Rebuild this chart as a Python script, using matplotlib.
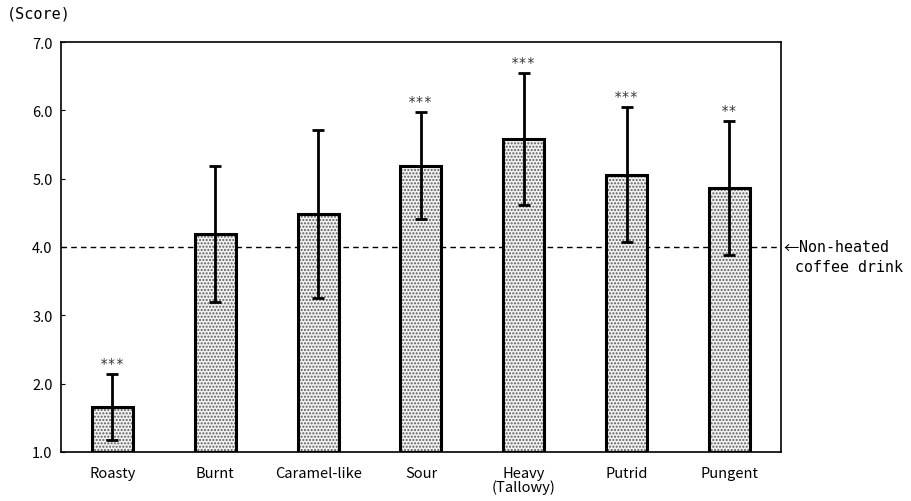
import numpy as np
import matplotlib.pyplot as plt

plt.rcParams['font.family'] = ['Noto Sans CJK JP', 'DejaVu Sans']

categories = ['Roasty', 'Burnt', 'Caramel-like', 'Sour', 'Heavy\n(Tallowy)', 'Putrid', 'Pungent']
scores = [1.66, 4.19, 4.48, 5.19, 5.58, 5.06, 4.86]
errors = [0.48, 1.00, 1.23, 0.78, 0.97, 0.99, 0.98]
stars = ['***', '', '', '***', '***', '***', '**']
baseline = 4.0

x = np.arange(len(categories))

fig = plt.figure(figsize=(9.11, 5.02), dpi=100)
ax = fig.add_axes([0.067, 0.098, 0.790, 0.816])

# textured fill, then the black outline on top
ax.bar(x, [s - 1.0 for s in scores], bottom=1.0, width=0.4, color='#f2f2f2',
       hatch='.....', edgecolor='#5a5a5a', linewidth=0, zorder=2)
ax.bar(x, [s - 1.0 for s in scores], bottom=1.0, width=0.4, fill=False,
       edgecolor='black', linewidth=2.2, zorder=3)
ax.errorbar(x, scores, yerr=errors, fmt='none', ecolor='black', elinewidth=2,
            capsize=4, capthick=2, zorder=4)

for xi, s, e, st in zip(x, scores, errors, stars):
    if st:
        ax.text(xi, s + e + 0.06, st, ha='center', va='bottom', fontsize=10,
                family=['DejaVu Sans Mono'], color='#333333')

ax.axhline(baseline, color='black', linestyle=(0, (4, 3)), linewidth=1, zorder=1)
yb = (baseline - 1.0) / 6.0
ax.text(1.004, yb, '\u2190', transform=ax.transAxes, ha='left', va='center',
        fontsize=11, family=['Noto Sans CJK JP'])
ax.text(1.025, yb, 'Non-heated', transform=ax.transAxes,
        ha='left', va='center', fontsize=10.8, family=['DejaVu Sans Mono'])
ax.text(1.02, yb - 0.048, 'coffee drink', transform=ax.transAxes,
        ha='left', va='center', fontsize=10.8, family=['DejaVu Sans Mono'])

ax.set_xlim(-0.5, len(categories) - 0.5)
ax.set_ylim(1.0, 7.0)
ax.set_yticks(np.arange(1.0, 7.01, 1.0))
ax.set_yticklabels(['%.1f' % v for v in np.arange(1.0, 7.01, 1.0)], fontsize=10.5)
ax.set_xticks(x)
ax.set_xticklabels(categories, fontsize=10.5, linespacing=1.0)
ax.tick_params(axis='x', length=0, pad=10)
ax.tick_params(axis='y', direction='in', length=3, pad=6)
for sp in ax.spines.values():
    sp.set_linewidth(1.2)

fig.text(0.008, 0.972, '(Score)', fontsize=11, ha='left', va='center',
         family=['DejaVu Sans Mono'])

fig.savefig('out.png', dpi=100)
